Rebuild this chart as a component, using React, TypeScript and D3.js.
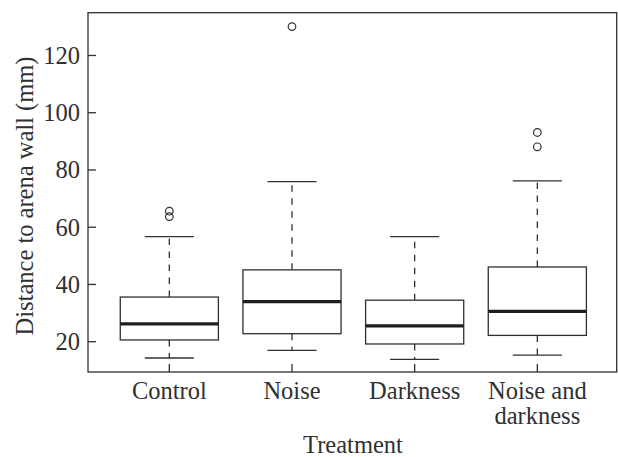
import React from "react";
import * as d3 from "d3";

const categories = ["Control", "Noise", "Darkness", "Noise and\ndarkness"];
const lowerWhisker = [14.3, 17.0, 13.8, 15.3];
const q1 = [20.6, 22.8, 19.2, 22.2];
const median = [26.2, 34.0, 25.5, 30.6];
const q3 = [35.6, 45.1, 34.5, 46.1];
const upperWhisker = [56.7, 75.9, 56.7, 76.2];
const outliers = [[63.7, 65.6], [130.1], [], [88.1, 93.1]];
const yTicks = [20, 40, 60, 80, 100, 120];

const W = 618, H = 457;
const L = 88, R = 616.7, T = 12.7, B = 372;
const FONT = "'Liberation Serif', 'Times New Roman', serif";
const INK = "#303030";
const FS = 24.5;

export default function App() {
  const x = d3.scaleLinear().domain([0.337, 4.647]).range([L, R]);
  const y = d3.scaleLinear().domain([9.41, 134.95]).range([B, T]);
  const bw = 0.4, sw = 0.2;
  return (
    <svg width={W} height={H} style={{ position: "absolute", left: 0, top: 0, background: "#fff" }} fontFamily={FONT}>
      <rect x={L} y={T} width={R - L} height={B - T} fill="none" stroke={INK} strokeWidth={1.3} />
      {yTicks.map((t) => (
        <g key={t}>
          <line x1={L} x2={L + 8} y1={y(t)} y2={y(t)} stroke={INK} strokeWidth={1.3} />
          <text x={L - 8} y={y(t)} dy="0.34em" textAnchor="end" fontSize={FS} fill={INK}>{t}</text>
        </g>
      ))}
      {categories.map((c, i) => {
        const cx = x(i + 1);
        const lines = c.split("\n");
        return (
          <g key={c}>
            <line x1={cx} x2={cx} y1={B} y2={B - 8} stroke={INK} strokeWidth={1.3} />
            <line x1={cx} x2={cx} y1={y(q1[i])} y2={y(lowerWhisker[i])} stroke={INK} strokeWidth={1.3} strokeDasharray="6.5,6.5" />
            <line x1={cx} x2={cx} y1={y(q3[i])} y2={y(upperWhisker[i])} stroke={INK} strokeWidth={1.3} strokeDasharray="6.5,6.5" />
            <line x1={x(i + 1 - sw)} x2={x(i + 1 + sw)} y1={y(lowerWhisker[i])} y2={y(lowerWhisker[i])} stroke={INK} strokeWidth={1.3} />
            <line x1={x(i + 1 - sw)} x2={x(i + 1 + sw)} y1={y(upperWhisker[i])} y2={y(upperWhisker[i])} stroke={INK} strokeWidth={1.3} />
            <rect x={x(i + 1 - bw)} y={y(q3[i])} width={x(i + 1 + bw) - x(i + 1 - bw)} height={y(q1[i]) - y(q3[i])} fill="#fff" stroke={INK} strokeWidth={1.3} />
            <line x1={x(i + 1 - bw)} x2={x(i + 1 + bw)} y1={y(median[i])} y2={y(median[i])} stroke="#1e1e1e" strokeWidth={3.2} />
            {outliers[i].map((o, j) => (
              <circle key={j} cx={cx} cy={y(o)} r={3.8} fill="none" stroke={INK} strokeWidth={1.2} />
            ))}
            {lines.map((ln, k) => (
              <text key={k} x={cx} y={398.5 + k * 25} textAnchor="middle" fontSize={FS} fill={INK}>{ln}</text>
            ))}
          </g>
        );
      })}
      <text x={353} y={453} textAnchor="middle" fontSize={FS} fill={INK}>Treatment</text>
      <text transform={`translate(33,196) rotate(-90)`} textAnchor="middle" fontSize={FS} fill={INK}>Distance to arena wall (mm)</text>
    </svg>
  );
}
